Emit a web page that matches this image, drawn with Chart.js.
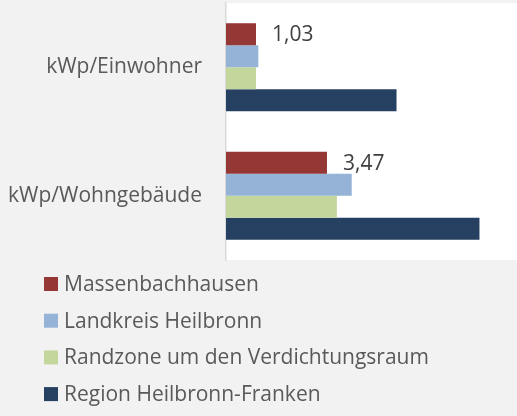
<!DOCTYPE html>
<html>
<head>
<meta charset="utf-8">
<script src="https://cdn.jsdelivr.net/npm/chart.js@4/dist/chart.umd.min.js"></script>
<style>
  html, body { margin: 0; padding: 0; background: #f2f2f2; }
  canvas { display: block; }
</style>
</head>
<body>
<canvas id="pv-chart" width="517" height="416"></canvas>
<script>
// Chart data
const categories = ['kWp/Einwohner', 'kWp/Wohngebäude'];
const seriesNames = ['Massenbachhausen', 'Landkreis Heilbronn', 'Randzone um den Verdichtungsraum', 'Region Heilbronn-Franken'];
const massenbachhausen = [1.03, 3.47];
const landkreisHeilbronn = [1.11, 4.32];
const randzone = [1.03, 3.81];
const regionHeilbronnFranken = [5.86, 8.71];
const seriesColors = ['#953735', '#95b3d7', '#c3d69b', '#254061'];

const fontFamily = '"Open Sans", "Noto Sans", sans-serif';

// Gray page, white plot area
const backgroundPlugin = {
    id: 'bg',
    beforeDraw: function(chart) {
        let ctx = chart.ctx;
        let a = chart.chartArea;
        ctx.save();
        ctx.fillStyle = '#f2f2f2';
        ctx.fillRect(0, 0, chart.width, chart.height);
        ctx.fillStyle = '#ffffff';
        ctx.fillRect(a.left, a.top, a.right - a.left, a.bottom - a.top);
        ctx.restore();
    }
};

// Value labels, only for the first series
const valueLabelPlugin = {
    id: 'valueLabels',
    afterDatasetsDraw: function(chart) {
        let ctx = chart.ctx;
        let meta = chart.getDatasetMeta(0);
        ctx.save();
        ctx.font = '21px ' + fontFamily;
        ctx.fillStyle = '#404040';
        ctx.textAlign = 'left';
        ctx.textBaseline = 'middle';
        meta.data.forEach(function(bar, i) {
            let v = chart.data.datasets[0].data[i];
            ctx.fillText(v.toFixed(2).replace('.', ','), bar.x + 16, bar.y + 1);
        });
        ctx.restore();
    }
};

// Vertical legend under the plot
const listLegendPlugin = {
    id: 'listLegend',
    afterDraw: function(chart) {
        let ctx = chart.ctx;
        let top = chart.chartArea.bottom + 24;
        ctx.save();
        ctx.font = '21px ' + fontFamily;
        ctx.textAlign = 'left';
        ctx.textBaseline = 'middle';
        chart.data.datasets.forEach(function(ds, i) {
            let y = top + i * 36.7;
            ctx.fillStyle = ds.backgroundColor;
            ctx.fillRect(44, y - 7, 14, 14);
            ctx.fillStyle = '#595959';
            ctx.fillText(ds.label, 64, y + 1);
        });
        ctx.restore();
    }
};

const seriesValues = [massenbachhausen, landkreisHeilbronn, randzone, regionHeilbronnFranken];

new Chart(document.getElementById('pv-chart'), {
    type: 'bar',
    data: {
        labels: categories,
        datasets: seriesNames.map(function(name, i) {
            return {
                label: name,
                data: seriesValues[i],
                backgroundColor: seriesColors[i],
                borderWidth: 0,
                categoryPercentage: 0.685,
                barPercentage: 1.0
            };
        })
    },
    options: {
        indexAxis: 'y',
        responsive: false,
        animation: false,
        layout: {
            padding: { top: 3, right: 0, bottom: 156, left: 0 }
        },
        scales: {
            x: {
                display: false,
                min: 0,
                max: 10
            },
            y: {
                afterFit: function(scale) {
                    scale.width = 226;
                    // drop the label padding Chart.js adds above/below
                    scale.paddingTop = 0;
                    scale.paddingBottom = 0;
                },
                grid: { display: false, drawTicks: false },
                border: { display: true, color: '#d9d9d9', width: 1.5 },
                ticks: {
                    color: '#595959',
                    padding: 24,
                    font: { family: fontFamily, size: 21 }
                }
            }
        },
        plugins: {
            legend: { display: false },
            tooltip: { enabled: false }
        }
    },
    plugins: [backgroundPlugin, valueLabelPlugin, listLegendPlugin]
});
</script>
</body>
</html>
